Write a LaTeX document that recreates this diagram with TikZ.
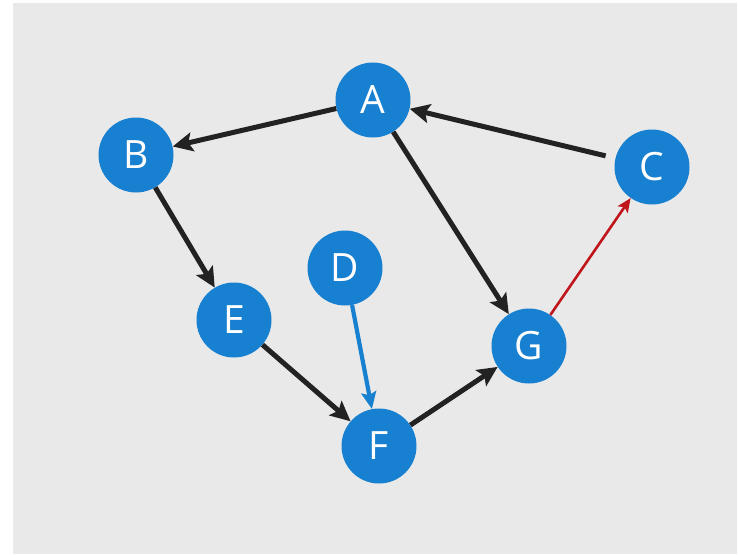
\documentclass[tikz,border=0pt]{standalone}
\usepackage{fontspec}
\setmainfont{Open Sans}
\usetikzlibrary{arrows.meta}

\definecolor{nodeblue}{HTML}{1880D0}
\definecolor{panelgrey}{HTML}{E9E9E9}
\definecolor{linkblack}{HTML}{222222}
\definecolor{linkred}{HTML}{C0161B}

\begin{document}
\begin{tikzpicture}[
  x=1pt, y=-1pt,
  every node/.style={circle, fill=nodeblue, minimum size=75pt, inner sep=0pt,
    text=white, font=\fontsize{39}{39}\selectfont},
  link/.style={-{Stealth[length=20pt, width=19pt, inset=4pt]}, line width=5pt, color=linkblack},
  redlink/.style={-{Stealth[length=14pt, width=12pt, inset=3pt]}, line width=2.6pt, color=linkred},
  bluelink/.style={-{Stealth[length=17pt, width=15pt, inset=3pt]}, line width=4.2pt, color=nodeblue}
]
  % page and grey panel
  \useasboundingbox (0,0) rectangle (738,554);
  \fill[white] (0,0) rectangle (738,554);
  \fill[panelgrey] (13,3) rectangle (737,554);

  \node (A) at (373,100) {A};
  \node (B) at (136,155) {B};
  \node (C) at (652,167) {C};
  \node (D) at (345,268) {D};
  \node (E) at (234,320) {E};
  \node (F) at (379,446) {F};
  \node (G) at (529,346) {G};

  \draw[link] (A) -- (B);
  \draw[link, shorten <=10pt] (C) -- (A);
  \draw[link] (A) -- (G);
  \draw[link] (B) -- (E);
  \draw[link] (E) -- (F);
  \draw[link] (F) -- (G);
  \draw[bluelink] (D) -- (F);
  \draw[redlink] (G) -- (C);

\end{tikzpicture}
\end{document}
